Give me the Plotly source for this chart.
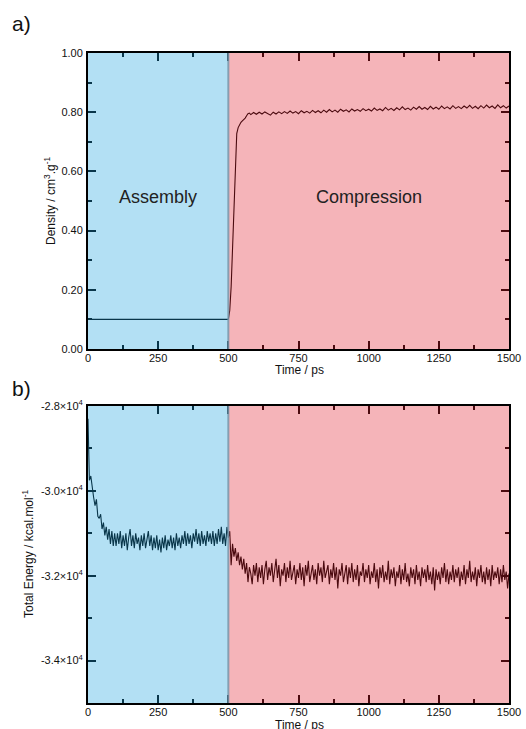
import plotly.graph_objects as go

# ---------------- data ----------------
dens_blue_t = [0, 100, 200, 300, 400, 500]
dens_blue = [0.100, 0.100, 0.100, 0.100, 0.100, 0.100]

dens_pink_t = [500, 505, 510, 515, 520, 525, 530, 535, 540, 545, 550, 555, 560, 565, 570, 575] + list(range(580, 1510, 10))
dens_pink = [0.100, 0.130, 0.210, 0.340, 0.490, 0.640, 0.728, 0.748, 0.760, 0.766, 0.771, 0.775, 0.780, 0.788, 0.795, 0.797,
             0.792, 0.799, 0.793, 0.800, 0.794, 0.801, 0.795, 0.790, 0.800, 0.794,
             0.801, 0.795, 0.802, 0.796, 0.804, 0.797, 0.802, 0.795, 0.805, 0.798,
             0.803, 0.797, 0.806, 0.799, 0.805, 0.798, 0.807, 0.800, 0.809, 0.801,
             0.807, 0.800, 0.810, 0.803, 0.808, 0.801, 0.811, 0.804, 0.809, 0.803,
             0.812, 0.805, 0.810, 0.804, 0.814, 0.806, 0.811, 0.805, 0.816, 0.807,
             0.813, 0.806, 0.815, 0.808, 0.818, 0.809, 0.814, 0.807, 0.817, 0.810,
             0.819, 0.810, 0.816, 0.809, 0.820, 0.811, 0.817, 0.810, 0.821, 0.812,
             0.818, 0.811, 0.822, 0.813, 0.819, 0.812, 0.821, 0.814, 0.823, 0.813,
             0.820, 0.812, 0.822, 0.814, 0.824, 0.815, 0.821, 0.813, 0.825, 0.815,
             0.822, 0.814, 0.821]

energy_blue = [-28300, -29750, -29650, -29950, -30150, -30350, -30200, -30600, -30650, -30550,
               -30900, -30750, -31050, -30850, -31150, -30900, -31250, -30950, -31300, -31000,
               -31300, -31000, -31250, -30950, -31350, -31050, -31300, -31000, -31400, -31100,
               -30900, -31300, -31050, -31350, -31000, -31250, -31100, -31400, -31050, -31300,
               -31000, -31350, -31100, -30950, -31300, -31050, -31400, -31100, -31350, -31050,
               -31400, -31150, -31450, -31100, -31350, -31050, -31400, -31150, -31300, -31050,
               -31350, -31100, -31400, -31000, -31300, -31100, -31350, -31050, -31250, -30950,
               -31300, -31000, -31250, -31050, -31350, -31000, -31200, -30900, -31250, -31000,
               -31300, -30950, -31250, -31050, -31300, -30950, -31200, -31000, -31250, -30950,
               -31300, -31000, -31250, -30900, -31200, -30850, -31250, -31000, -31300, -30850,
               -31100]
energy_blue_t = list(range(0, 5 * len(energy_blue), 5))

energy_pink = [-31100, -30950, -31750, -31250, -31550, -31350, -31650, -31450, -31750, -31550,
               -31850, -31600, -31950, -31700, -32150, -31800, -31950, -32200, -31750, -32000,
               -31700, -32150, -31800, -32050, -31750, -32200, -31850, -31650, -32100, -31800,
               -32000, -31700, -32150, -31850, -31600, -32050, -31750, -32250, -31850, -32000,
               -31700, -32150, -31800, -32050, -31650, -32100, -31900, -31750, -32200, -31850,
               -32050, -31700, -32100, -31800, -32250, -31750, -32000, -31650, -32150, -31900,
               -31750, -32100, -31850, -32200, -31700, -32000, -31800, -32150, -31650, -32050,
               -31900, -31750, -32200, -31850, -32050, -31700, -32100, -31800, -32300, -31850,
               -32000, -31700, -32150, -31900, -31750, -32200, -31800, -32050, -31700, -32150,
               -31850, -32100, -31750, -32250, -31900, -32000, -31700, -32150, -31850, -32050,
               -31750, -32200, -31900, -32050, -31700, -32150, -31850, -32300, -31800, -32050,
               -31750, -32150, -31900, -32100, -31650, -32200, -31850, -32050, -31800, -32250,
               -31900, -32050, -31750, -32200, -31850, -32100, -31700, -32150, -31950, -32250,
               -31800, -32050, -31850, -32200, -31750, -32100, -31900, -32250, -31800, -32050,
               -31850, -32150, -31750, -32100, -31900, -32200, -31800, -32350, -31850, -32100,
               -31900, -32200, -31800, -32050, -31700, -32150, -31850, -32200, -31900, -32100,
               -31750, -32150, -31850, -32050, -31800, -32250, -31900, -32100, -31750, -32200,
               -31850, -32050, -31650, -32150, -31900, -32100, -31800, -32250, -31850, -32050,
               -31750, -32150, -31900, -32200, -31800, -32100, -31850, -32250, -31750, -32100,
               -31900, -32050, -31800, -32200, -31850, -32150, -31750, -32100, -31900, -32300,
               -31950]
energy_pink_t = list(range(500, 500 + 5 * len(energy_pink), 5))

x_ticks = [0, 250, 500, 750, 1000, 1250, 1500]
dens_ticks = [0.0, 0.2, 0.4, 0.6, 0.8, 1.0]
energy_ticks = [-34000, -32000, -30000, -28000]
energy_ticktext = ["-3.4×10<sup>4</sup>", "-3.2×10<sup>4</sup>", "-3.0×10<sup>4</sup>", "-2.8×10<sup>4</sup>"]

# ---------------- figure ----------------
W, H = 526, 729
def px(x):
    return x / W
def py(y):
    return 1 - y / H

FONT = "Liberation Sans, Arial, Helvetica, sans-serif"

fig = go.Figure()
line = dict(color="black", width=1.1)
fig.add_trace(go.Scatter(x=dens_blue_t, y=dens_blue, mode="lines", line=line, xaxis="x", yaxis="y", showlegend=False))
fig.add_trace(go.Scatter(x=dens_pink_t, y=dens_pink, mode="lines", line=line, xaxis="x", yaxis="y", showlegend=False))
fig.add_trace(go.Scatter(x=energy_blue_t, y=energy_blue, mode="lines", line=line, xaxis="x2", yaxis="y2", showlegend=False))
fig.add_trace(go.Scatter(x=energy_pink_t, y=energy_pink, mode="lines", line=line, xaxis="x2", yaxis="y2", showlegend=False))

tickfont = dict(family=FONT, size=11, color="#111")
common_x = dict(range=[0, 1500], tickvals=x_ticks, ticks="inside", ticklen=8, tickwidth=1.5, tickcolor="black",
                showline=True, linecolor="black", linewidth=2, mirror="ticks", showgrid=False, zeroline=False,
                automargin=False, ticklabelstandoff=-2,
                tickfont=tickfont, minor=dict(ticks="inside", ticklen=4, tickwidth=1.5, tickcolor="black", dtick=125, tick0=0))
common_y = dict(ticks="inside", ticklen=8, tickwidth=1.5, tickcolor="black", showline=True, linecolor="black",
                linewidth=2, mirror="ticks", showgrid=False, zeroline=False, tickfont=tickfont,
                automargin=False, ticklabelstandoff=1)
fig.update_layout(
    width=W, height=H, autosize=False,
    margin=dict(l=0, r=0, t=0, b=0, pad=0),
    paper_bgcolor="white", plot_bgcolor="white",
    xaxis=dict(domain=[px(88), px(509)], anchor="y", **common_x),
    xaxis2=dict(domain=[px(88), px(509)], anchor="y2", **common_x),
    yaxis=dict(domain=[py(349), py(53)], anchor="x", range=[0, 1.0], tickvals=dens_ticks, tickformat=".2f",
               minor=dict(ticks="inside", ticklen=4, tickwidth=1.5, tickcolor="black", dtick=0.1, tick0=0),
               **common_y),
    yaxis2=dict(domain=[py(703), py(406)], anchor="x2", range=[-35000, -28000], tickvals=energy_ticks,
                ticktext=energy_ticktext,
                minor=dict(ticks="inside", ticklen=4, tickwidth=1.5, tickcolor="black", dtick=1000, tick0=-35000),
                **common_y),
)

blue = "rgba(27,162,222,0.333)"
pink = "rgba(225,30,45,0.333)"
for xr, yr, ylo, yhi in [("x", "y", -0.005, 1.005), ("x2", "y2", -35035, -27965)]:
    fig.add_shape(type="rect", xref=xr, yref=yr, x0=-5, x1=500, y0=ylo, y1=yhi,
                  fillcolor=blue, line=dict(width=0), layer="above")
    fig.add_shape(type="rect", xref=xr, yref=yr, x0=500, x1=1505, y0=ylo, y1=yhi,
                  fillcolor=pink, line=dict(width=0), layer="above")
    fig.add_shape(type="line", xref=xr, yref=yr, x0=500, x1=500, y0=ylo, y1=yhi,
                  line=dict(color="rgba(120,150,170,0.85)", width=2), layer="above")

ann = []
ann.append(dict(text="a)", x=px(10), y=py(24), xref="paper", yref="paper", xanchor="left", yanchor="middle",
                showarrow=False, font=dict(family=FONT, size=21, color="#111")))
ann.append(dict(text="b)", x=px(10), y=py(388), xref="paper", yref="paper", xanchor="left", yanchor="middle",
                showarrow=False, font=dict(family=FONT, size=21, color="#111")))
ann.append(dict(text="Assembly", x=250, y=0.514, xref="x", yref="y", showarrow=False,
                font=dict(family=FONT, size=18, color="#222")))
ann.append(dict(text="Compression", x=1000, y=0.514, xref="x", yref="y", showarrow=False,
                font=dict(family=FONT, size=18, color="#222")))
ann.append(dict(text="Time / ps", x=px(299), y=py(370), xref="paper", yref="paper", showarrow=False,
                xanchor="center", yanchor="middle", font=dict(family=FONT, size=12, color="#111")))
ann.append(dict(text="Time / ps", x=px(299), y=py(725), xref="paper", yref="paper", showarrow=False,
                xanchor="center", yanchor="middle", font=dict(family=FONT, size=12, color="#111")))
ann.append(dict(text="Density / cm<sup>3</sup>.g<sup>-1</sup>", x=px(50), y=py(201), xref="paper", yref="paper",
                xanchor="center", yanchor="middle",
                showarrow=False, textangle=-90, font=dict(family=FONT, size=12, color="#111")))
ann.append(dict(text="Total Energy / kcal.mol<sup>-1</sup>", x=px(28), y=py(554), xref="paper", yref="paper",
                xanchor="center", yanchor="middle",
                showarrow=False, textangle=-90, font=dict(family=FONT, size=12, color="#111")))
fig.update_layout(annotations=ann)

fig.write_html("out.html", config={"displayModeBar": False},
               post_script="document.body.style.margin='0px';document.body.style.overflow='hidden';")
